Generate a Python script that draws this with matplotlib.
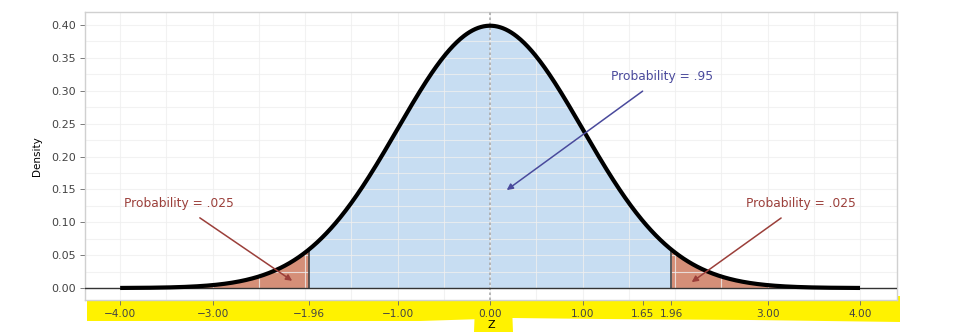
import numpy as np
import matplotlib.pyplot as plt
from matplotlib.patches import Polygon

plt.rcParams['font.family'] = ['DejaVu Sans']

# distribution and critical values
mu, sigma = 0.0, 1.0
z_lo, z_hi = -4.0, 4.0
z_crit = 1.96
xtick_vals = [-4.0, -3.0, -1.96, -1.0, 0.0, 1.0, 1.65, 1.96, 3.0, 4.0]
xtick_labels = ["\u22124.00", "\u22123.00", "\u22121.96", "\u22121.00", "0.00",
                "1.00", "1.65", "1.96", "3.00", "4.00"]
ytick_vals = [0.00, 0.05, 0.10, 0.15, 0.20, 0.25, 0.30, 0.35, 0.40]

# annotations: (text, text_xy, arrow_tip)
notes = [
    ("Probability = .95", (1.86, 0.321), (0.18, 0.149), "#4a4a9c"),
    ("Probability = .025", (-3.36, 0.128), (-2.14, 0.011), "#9b3f3a"),
    ("Probability = .025", (3.36, 0.128), (2.18, 0.009), "#9b3f3a"),
]

def dens(z):
    return np.exp(-0.5 * ((z - mu) / sigma) ** 2) / (sigma * np.sqrt(2 * np.pi))

fig = plt.figure(figsize=(9.69, 3.34), dpi=100)
ax = fig.add_axes([85/969, 1-300/334, (897-85)/969, (300-12)/334])

# yellow marker highlight under the x labels
band = [(87, 299), (200, 292), (300, 296), (420, 300), (520, 297), (600, 292),
        (650, 290), (720, 296), (900, 296), (900, 322), (750, 320), (600, 319),
        (513, 318), (420, 321), (87, 321)]
zbox = [(475, 306), (512, 306), (513, 332), (474, 332)]
for pts in (band, zbox):
    fig.patches.append(Polygon([(x/969, 1-y/334) for x, y in pts], closed=True,
                               transform=fig.transFigure, facecolor="#fff200",
                               edgecolor="none", zorder=-1))

z = np.linspace(z_lo, z_hi, 801)
d = dens(z)
mid = (z >= -z_crit) & (z <= z_crit)
ax.fill_between(z[mid], 0, d[mid], color="#c7ddf2", zorder=1, lw=0)
ax.fill_between(z[z <= -z_crit], 0, d[z <= -z_crit], color="#d58f78", zorder=1, lw=0)
ax.fill_between(z[z >= z_crit], 0, d[z >= z_crit], color="#d58f78", zorder=1, lw=0)

# grid drawn over the fills (major + minor)
for gx in np.arange(-4.5, 4.51, 0.5):
    ax.axvline(gx, color="#efefef", lw=0.8, alpha=0.8, zorder=2)
for gy in np.arange(0, 0.43, 0.025):
    ax.axhline(gy, color="#efefef", lw=0.8, alpha=0.8, zorder=2)

ax.vlines([-z_crit, z_crit], 0, dens(z_crit), color="#444444", lw=1.2, zorder=3)
ax.axvline(0, color="#aaaaaa", lw=1.2, ls=(0, (1.5, 1.5)), zorder=3)
ax.axhline(0, color="#333333", lw=1.0, zorder=3)
ax.plot(z, d, color="black", lw=3, zorder=4, solid_capstyle="butt")

for txt, txy, tip, col in notes:
    ax.annotate(txt, xy=tip, xytext=txy, color=col, fontsize=8.8,
                ha="center", va="center", zorder=5,
                arrowprops=dict(arrowstyle="-|>", color=col, lw=1.1,
                                shrinkA=6, shrinkB=0, mutation_scale=9))

ax.set_xlim(-4.38, 4.40)
ax.set_ylim(-0.0182, 0.4198)
ax.set_xticks(xtick_vals)
ax.set_xticklabels(xtick_labels, fontsize=7.6)
ax.set_yticks(ytick_vals)
ax.set_yticklabels([f"{v:.2f}" for v in ytick_vals], fontsize=8)
ax.tick_params(colors="#666666", labelcolor="#444444", length=3.5, width=0.6, pad=3)
ax.set_xlabel("Z", fontsize=8, labelpad=1)
ax.set_ylabel("Density", fontsize=7.5, labelpad=7)
for s in ax.spines.values():
    s.set_color("#d0d0d0")
    s.set_linewidth(1.0)

fig.savefig("out.png", dpi=100)
